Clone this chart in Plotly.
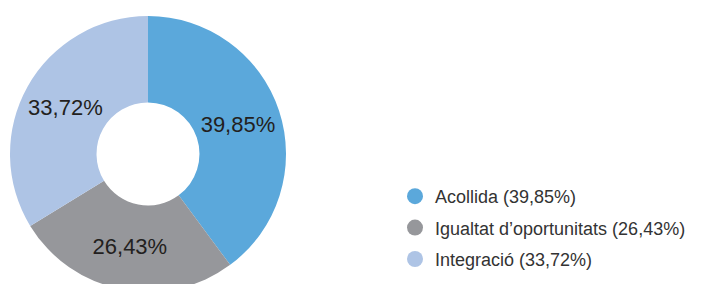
import plotly.graph_objects as go

categories = ["Acollida", "Igualtat d’oportunitats", "Integració"]
values = [39.85, 26.43, 33.72]
colors = ["#5BA8DB", "#96979B", "#AEC4E5"]

def fmt(v):
    return f"{v:.2f}".replace(".", ",") + "%"

W, H = 702, 292
cx, cy, r = 148, 154, 138

fig = go.Figure()
fig.add_trace(go.Pie(
    values=values,
    labels=categories,
    text=[fmt(v) for v in values],
    textinfo="text",
    textposition="inside",
    insidetextorientation="horizontal",
    insidetextfont=dict(family="Liberation Sans, Arial, sans-serif", size=22, color="#231F20"),
    marker=dict(colors=colors, line=dict(width=0)),
    hole=0.373,
    sort=False,
    direction="clockwise",
    rotation=0,
    showlegend=False,
    hoverinfo="label+percent",
    domain=dict(x=[(cx - r) / W, (cx + r) / W], y=[(H - (cy + r)) / H, (H - (cy - r)) / H]),
))

for c, v, col in zip(categories, values, colors):
    fig.add_trace(go.Scatter(
        x=[None], y=[None], mode="markers",
        marker=dict(symbol="circle", size=18, color=col),
        name=f"{c} ({fmt(v)})",
        legendgroup=c,
        showlegend=True,
    ))

fig.update_layout(
    width=W, height=H,
    margin=dict(l=0, r=0, t=0, b=0),
    paper_bgcolor="white", plot_bgcolor="white",
    xaxis=dict(visible=False), yaxis=dict(visible=False),
    legend=dict(
        x=395 / W, xanchor="left",
        y=1 - 178 / H, yanchor="top",
        font=dict(family="Liberation Sans, Arial, sans-serif", size=18, color="#333333"),
        tracegroupgap=5,
        itemsizing="trace",
        bgcolor="rgba(0,0,0,0)",
    ),
)

fig.write_html("out.html", config={"displayModeBar": False},
               post_script="document.body.style.margin='0';document.body.style.overflow='hidden';")
